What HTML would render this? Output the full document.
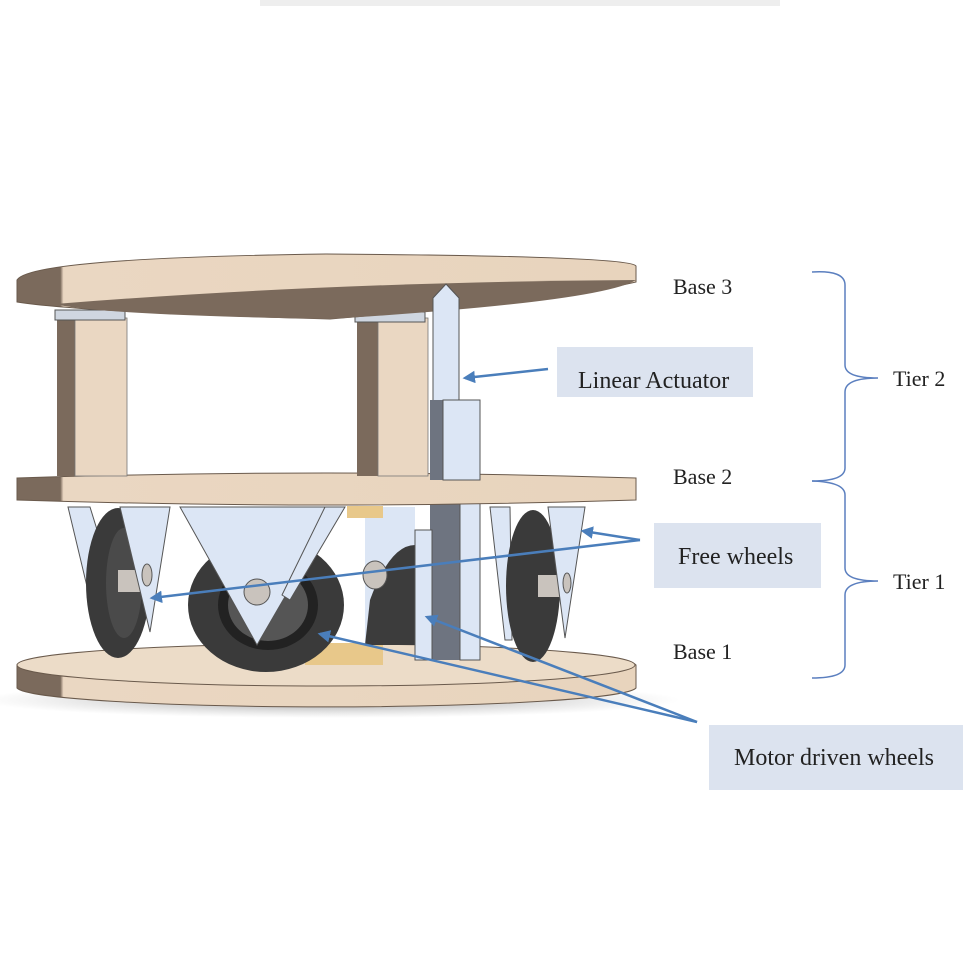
<!DOCTYPE html>
<html><head><meta charset="utf-8"><style>
html,body{margin:0;padding:0;background:#fff;}
svg{display:block}
text{font-family:"Liberation Serif",serif;fill:#222;}
</style></head><body>
<svg width="968" height="968" viewBox="0 0 968 968" xmlns="http://www.w3.org/2000/svg">
<defs>
<linearGradient id="wood" x1="0" x2="1" y1="0" y2="0">
<stop offset="0" stop-color="#7b6a5c"/><stop offset="0.07" stop-color="#7b6a5c"/><stop offset="0.075" stop-color="#ead7c2"/><stop offset="1" stop-color="#e8d4bd"/>
</linearGradient>
<radialGradient id="shadow" cx="0.5" cy="0.5" r="0.5"><stop offset="0" stop-color="#555" stop-opacity="0.6"/><stop offset="1" stop-color="#888" stop-opacity="0"/></radialGradient>
<marker id="ah" viewBox="0 0 10 10" refX="8" refY="5" markerWidth="5" markerHeight="5" orient="auto"><path d="M0,0 L10,5 L0,10 z" fill="#4a7ebb"/></marker>
</defs>
<rect x="260" y="0" width="520" height="6" fill="#eee"/>
<ellipse cx="330" cy="700" rx="350" ry="18" fill="url(#shadow)"/>

<!-- Base 1 -->
<path d="M17,665 A310,22 0 0 1 636,665 L636,688 A310,20 0 0 1 17,688 Z" fill="url(#wood)" stroke="#6a5a4c" stroke-width="1"/>
<ellipse cx="326" cy="665" rx="309" ry="21" fill="#ecdcc8" stroke="#6a5a4c" stroke-width="1"/>
<rect x="305" y="643" width="78" height="22" fill="#e8c88a"/>

<!-- Back middle wheel -->
<rect x="365" y="507" width="50" height="138" fill="#dce6f5"/>
<path d="M370,600 Q390,545 415,545 L415,645 L365,645 Z" fill="#3c3c3c"/>
<rect x="347" y="506" width="36" height="12" fill="#e8c88a"/>
<ellipse cx="375" cy="575" rx="12" ry="14" fill="#c9c3bd" stroke="#555"/>

<!-- Left wheel -->
<polygon points="68,507 90,507 125,620 120,630 95,620" fill="#dce6f5" stroke="#555" stroke-width="1"/>
<ellipse cx="118" cy="583" rx="32" ry="75" fill="#3a3a3a"/>
<ellipse cx="124" cy="583" rx="18" ry="55" fill="#4a4a4a"/>
<rect x="118" y="570" width="22" height="22" fill="#c9c3bd"/>
<polygon points="120,507 170,507 150,632" fill="#dce6f5" stroke="#555" stroke-width="1"/>
<ellipse cx="147" cy="575" rx="5" ry="11" fill="#c9c3bd" stroke="#555"/>

<!-- Center wheel -->
<ellipse cx="266" cy="605" rx="78" ry="67" fill="#3a3a3a"/>
<ellipse cx="268" cy="605" rx="50" ry="45" fill="#222"/>
<ellipse cx="268" cy="605" rx="40" ry="36" fill="#555"/>
<polygon points="180,507 337,507 257,645" fill="#dce6f5" stroke="#555" stroke-width="1"/>
<polygon points="325,507 345,507 290,600 282,595" fill="#dce6f5" stroke="#555" stroke-width="1"/>
<circle cx="257" cy="592" r="13" fill="#c9c3bd" stroke="#555"/>

<!-- Right wheel -->
<polygon points="490,507 510,507 512,640 505,640" fill="#dce6f5" stroke="#555" stroke-width="1"/>
<ellipse cx="533" cy="586" rx="27" ry="76" fill="#3a3a3a"/>
<rect x="538" y="575" width="22" height="22" fill="#c9c3bd"/>
<polygon points="548,507 585,507 565,638" fill="#dce6f5" stroke="#555" stroke-width="1"/>
<ellipse cx="567" cy="583" rx="4" ry="10" fill="#c9c3bd" stroke="#555"/>

<!-- Actuator lower -->
<rect x="430" y="500" width="30" height="160" fill="#6e7480"/>
<rect x="460" y="500" width="20" height="160" fill="#dce6f5" stroke="#555" stroke-width="1"/>
<rect x="415" y="530" width="17" height="130" fill="#dce6f5" stroke="#555" stroke-width="1"/>

<!-- Base 2 -->
<path d="M17,478 Q326,468 636,478 L636,500 Q326,510 17,500 Z" fill="url(#wood)" stroke="#6a5a4c" stroke-width="1"/>

<!-- Posts -->
<rect x="57" y="318" width="18" height="158" fill="#7b6a5c"/>
<rect x="75" y="318" width="52" height="158" fill="#ead7c2" stroke="#777" stroke-width="0.8"/>
<rect x="357" y="318" width="21" height="158" fill="#7b6a5c"/>
<rect x="378" y="318" width="50" height="158" fill="#ead7c2" stroke="#777" stroke-width="0.8"/>
<rect x="55" y="310" width="70" height="10" fill="#cfd6e0" stroke="#555" stroke-width="1"/>
<rect x="355" y="312" width="70" height="10" fill="#cfd6e0" stroke="#555" stroke-width="1"/>

<!-- Base 3 -->
<path d="M17,280 Q30,258 326,254 Q630,256 636,266 L636,282 Q560,300 330,319 Q80,312 17,302 Z" fill="url(#wood)" stroke="#6a5a4c" stroke-width="1"/>
<path d="M55,304 Q330,282 636,280 Q600,302 330,319 Q100,315 55,304 Z" fill="#7b6a5c"/>

<!-- Actuator upper -->
<polygon points="433,298 446,284 459,298 459,402 433,402" fill="#dce6f5" stroke="#555" stroke-width="1"/>
<rect x="430" y="400" width="13" height="80" fill="#6e7480"/>
<rect x="443" y="400" width="37" height="80" fill="#dce6f5" stroke="#555" stroke-width="1"/>

<!-- Label boxes -->
<rect x="557" y="347" width="196" height="50" fill="#dce3ef"/>
<rect x="654" y="523" width="167" height="65" fill="#dce3ef"/>
<rect x="709" y="725" width="254" height="65" fill="#dce3ef"/>
<text x="578" y="388" font-size="24">Linear Actuator</text>
<text x="678" y="564" font-size="24">Free wheels</text>
<text x="734" y="765" font-size="24">Motor driven wheels</text>
<text x="673" y="294" font-size="22">Base 3</text>
<text x="673" y="484" font-size="22">Base 2</text>
<text x="673" y="659" font-size="22">Base 1</text>
<text x="893" y="386" font-size="22">Tier 2</text>
<text x="893" y="589" font-size="22">Tier 1</text>

<g fill="none" stroke="#5b7fbf" stroke-width="1.5">
<path d="M812,272 Q845,270 845,285 L845,365 Q845,378 878,378 Q845,378 845,392 L845,468 Q845,481 812,481"/>
<path d="M812,481 Q845,482 845,495 L845,568 Q845,581 878,581 Q845,581 845,595 L845,665 Q845,678 812,678"/>
</g>

<g stroke="#4a7ebb" stroke-width="2.5" fill="none" marker-end="url(#ah)">
<line x1="548" y1="369" x2="465" y2="378"/>
<line x1="640" y1="540" x2="583" y2="531"/>
<line x1="640" y1="540" x2="152" y2="598"/>
<line x1="697" y1="722" x2="427" y2="617"/>
<line x1="697" y1="722" x2="320" y2="634"/>
</g>
</svg>
</body></html>
